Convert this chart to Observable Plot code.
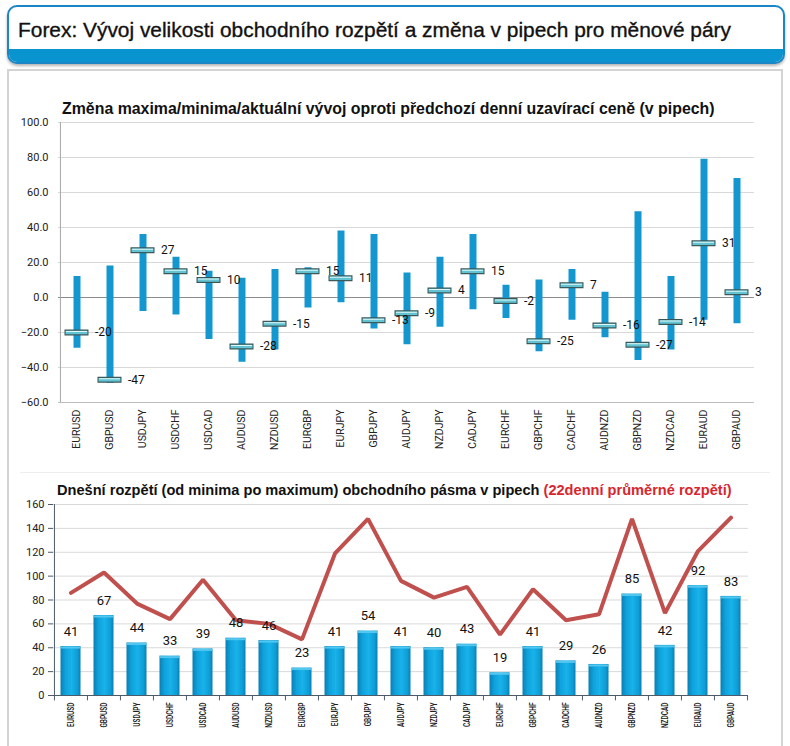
<!DOCTYPE html>
<html><head><meta charset="utf-8">
<script src="https://cdn.jsdelivr.net/npm/d3@7"></script>
<script src="https://cdn.jsdelivr.net/npm/@observablehq/plot@0.6"></script>
<style>
body{margin:0;background:#fff;font-family:"Liberation Sans",Arial,sans-serif;}
#page{position:relative;width:790px;height:746px;overflow:hidden;background:#fff;}
#hdr{position:absolute;left:7px;top:5px;width:774px;height:55px;border:2px solid #1b86c6;border-radius:10px;overflow:hidden;background:#fff;box-shadow:0 2px 3px rgba(0,0,0,0.3);}
#hdr .band{position:absolute;left:0;right:0;bottom:0;height:13px;background:#0a94cf;}
#hdr .t{position:absolute;left:9px;top:10px;font-size:20.9px;line-height:1.2;color:#111;white-space:nowrap;-webkit-text-stroke:0.35px #111;}
#panel{position:absolute;left:7px;top:69px;width:772px;height:700px;border:2px solid #d4d4d4;border-bottom:none;}
.ttl{position:absolute;font-weight:bold;line-height:1;color:#111;white-space:nowrap;}
#t1{left:62px;top:101px;font-size:15.9px;}
#t2{left:57px;top:483px;font-size:14.6px;}
#t2 span{color:#d8262e;}
#c1{position:absolute;left:0;top:100px;}
#c2{position:absolute;left:0;top:494px;}
#sep{position:absolute;left:20px;top:472px;width:750px;height:0;border-top:1px solid #eeeeee;}
</style>
</head><body>
<div id="page">
  <div id="hdr"><div class="t">Forex: Vývoj velikosti obchodního rozpětí a změna v pipech pro měnové páry</div><div class="band"></div></div>
  <div id="panel"></div>
  <div id="t1" class="ttl">Změna maxima/minima/aktuální vývoj oproti předchozí denní uzavírací ceně (v pipech)</div>
  <div id="sep"></div>
  <div id="t2" class="ttl">Dnešní rozpětí (od minima po maximum) obchodního pásma v pipech <span>(22denní průměrné rozpětí)</span></div>
  <div id="c1"></div>
  <div id="c2"></div>
</div>
<script>
const pairs = ["EURUSD","GBPUSD","USDJPY","USDCHF","USDCAD","AUDUSD","NZDUSD","EURGBP","EURJPY","GBPJPY","AUDJPY","NZDJPY","CADJPY","EURCHF","GBPCHF","CADCHF","AUDNZD","GBPNZD","NZDCAD","EURAUD","GBPAUD"];
const maxChange = [12,18,36,23,15,11,16,17,38,36,14,23,36,7,10,16,3,49,12,79,68];
const minChange = [-29,-49,-8,-10,-24,-37,-30,-6,-3,-18,-27,-17,-7,-12,-31,-13,-23,-36,-30,-13,-15];
const current = [-20,-47,27,15,10,-28,-15,15,11,-13,-9,4,15,-2,-25,7,-16,-27,-14,31,3];
const todayRange = [41,67,44,33,39,48,46,23,41,54,41,40,43,19,41,29,26,85,42,92,83];
const avgRange = [86,103,77,64,97,63,60,47,119,148,96,82,91,51,89,63,68,148,69,121,149];
const yTicksTop = [-60,-40,-20,0,20,40,60,80,100];
const yTicksBottom = [0,20,40,60,80,100,120,140,160];

const changeData = pairs.map((p,i)=>({pair:p, max:maxChange[i], min:minChange[i], cur:current[i]}));
const rangeData = pairs.map((p,i)=>({pair:p, today:todayRange[i], avg:avgRange[i]}));

function squeeze(svg, k){
  svg.querySelectorAll('g[aria-label="x-axis tick label"] text').forEach(t=>{
    const tr = t.getAttribute("transform") || "";
    t.setAttribute("transform", tr + ` scale(${k},1)`);
  });
}

// ---- Top chart ----
const W1 = 790, ml1 = 58, mr1 = 36;
const bw1 = (W1 - ml1 - mr1) / pairs.length;
const chart1 = Plot.plot({
  width: W1, height: 350,
  marginLeft: ml1, marginRight: mr1, marginTop: 22, marginBottom: 48,
  style: {background: "transparent", fontFamily: "Roboto, sans-serif", color: "#222"},
  x: {type: "band", domain: pairs, padding: 0, label: null},
  y: {domain: [-60, 100], label: null},
  marks: [
    Plot.gridY(yTicksTop, {stroke: "#d9d9d9", strokeOpacity: 1}),
    Plot.ruleY([0], {stroke: "#8c8c8c"}),
    Plot.ruleY([-60], {stroke: "#bfbfbf"}),
    Plot.ruleX([pairs[0]], {dx: -bw1/2, y1: -60, y2: 100, stroke: "#a6a6a6"}),
    Plot.axisY(yTicksTop, {tickSize: 0, tickPadding: 10, tickFormat: d3.format(".1f"), fontSize: 11, fontFamily: "Roboto, sans-serif", fill: "#222"}),
    Plot.axisX({tickSize: 0, tickPadding: 7, tickRotate: -90, fontSize: 10.5, fontFamily: "Roboto, sans-serif", fill: "#222", label: null}),
    Plot.ruleX(changeData, {x: "pair", y1: "min", y2: "max", stroke: "#1497cf", strokeWidth: 7}),
    Plot.tickY(changeData, {x: "pair", y: "cur", stroke: "#3b5557", strokeWidth: 6, insetLeft: 4.5, insetRight: 4.5}),
    Plot.tickY(changeData, {x: "pair", y: "cur", stroke: "#62c4d3", strokeWidth: 3.6, insetLeft: 5.5, insetRight: 5.5}),
    Plot.tickY(changeData, {x: "pair", y: "cur", stroke: "#dff8f9", strokeWidth: 1, dy: -1, insetLeft: 6, insetRight: 6}),
    Plot.text(changeData, {x: "pair", y: "cur", text: d => String(d.cur), dx: 18, textAnchor: "start", fontSize: 12, fontFamily: "Roboto, sans-serif", fill: "#111"})
  ]
});
squeeze(chart1, 1);
document.getElementById("c1").appendChild(chart1);

// ---- Bottom chart ----
const W2 = 790, ml2 = 53, mr2 = 42;
const bw2 = (W2 - ml2 - mr2) / pairs.length;
const chart2 = Plot.plot({
  width: W2, height: 252,
  marginLeft: ml2, marginRight: mr2, marginTop: 10, marginBottom: 51,
  style: {background: "transparent", fontFamily: "Roboto, sans-serif", color: "#222"},
  x: {type: "band", domain: pairs, padding: 0, label: null},
  y: {domain: [0, 160], label: null},
  marks: [
    Plot.gridY(yTicksBottom, {stroke: "#d9d9d9", strokeOpacity: 1}),
    Plot.axisY(yTicksBottom, {tickSize: 5, tickPadding: 4, stroke: "#4d5b69", fontSize: 11, fontFamily: "Roboto, sans-serif", fill: "#222"}),
    Plot.axisX({tickSize: 0, tickPadding: 7, tickRotate: -90, fontSize: 9, fontWeight: 600, fontFamily: "Roboto, sans-serif", fill: "#222", label: null}),
    Plot.barY(rangeData, {x: "pair", y: "today", fill: "url(#barGrad)", insetLeft: 6.5, insetRight: 6.5}),
    Plot.tickY(rangeData, {x: "pair", y: "today", stroke: "#55c6ee", strokeWidth: 2, dy: 1, insetLeft: 6.5, insetRight: 6.5}),
    Plot.ruleY([0], {stroke: "#4d5b69"}),
    Plot.ruleX([pairs[0]], {dx: -bw2/2, y1: 0, y2: 160, stroke: "#4d5b69"}),
    Plot.ruleX(pairs, {x: d => d, dx: -bw2/2, y1: 0, y2: -4.5, stroke: "#4d5b69"}),
    Plot.ruleX([pairs[pairs.length-1]], {dx: bw2/2, y1: 0, y2: -4.5, stroke: "#4d5b69"}),
    Plot.line(rangeData, {x: "pair", y: "avg", stroke: "#c0504d", strokeWidth: 4, strokeLinejoin: "miter"}),
    Plot.text(rangeData, {x: "pair", y: "today", text: d => String(d.today), dy: -15, fontSize: 13, fontFamily: "Roboto, sans-serif", fill: "#111"})
  ]
});
squeeze(chart2, 0.72);
const defs = d3.select(chart2).insert("defs", ":first-child");
const g = defs.append("linearGradient").attr("id", "barGrad").attr("x1", "0").attr("x2", "1").attr("y1", "0").attr("y2", "0");
[["0%","#0a7fb3"],["25%","#0fa2dc"],["55%","#19b2ea"],["85%","#0e9dd6"],["100%","#0a7fb3"]].forEach(([o,c]) => g.append("stop").attr("offset", o).attr("stop-color", c));
document.getElementById("c2").appendChild(chart2);
</script>
</body></html>
